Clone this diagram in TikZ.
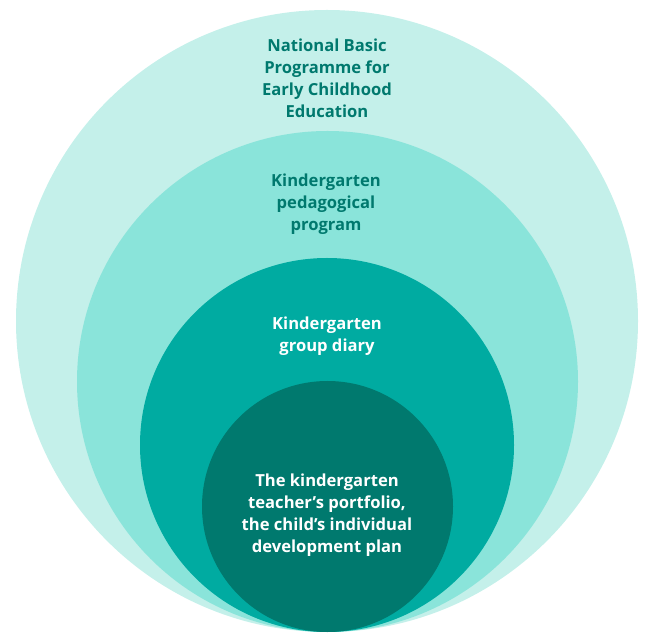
\documentclass[tikz,border=0pt]{standalone}
\usepackage{fontspec}
\setmainfont{Open Sans}
\definecolor{ringA}{HTML}{C4F0EA}
\definecolor{ringB}{HTML}{8AE4DA}
\definecolor{ringC}{HTML}{00ABA1}
\definecolor{ringD}{HTML}{00796E}
\begin{document}
\begin{tikzpicture}[x=1pt,y=1pt]

      \useasboundingbox (0,0) rectangle (645,632);

      \begin{scope}[every node/.style={circle, inner sep=0pt}]
        \node[fill=ringA, minimum size=622] (outer)  at (327,311) {};
        \node[fill=ringB, minimum size=501] (school) at (327.5,250.5) {};
        \node[fill=ringC, minimum size=374] (group)  at (327,187) {};
        \node[fill=ringD, minimum size=251] (child)  at (327.5,125.5) {};
      \end{scope}

      \begin{scope}[every node/.style={align=center, font=\fontsize{16.6}{22}\selectfont\bfseries}]
        \node[text=ringD] (national) at (327,554) {National Basic\\Programme for\\Early Childhood\\Education};
        \node[text=ringD] (pedagogy) at (326,428) {Kindergarten\\pedagogical\\program};
        \node[text=white] (diary)    at (327,296) {Kindergarten\\group diary};
        \node[text=white] (plan)     at (327,116.5) {The kindergarten\\teacher’s portfolio,\\the child’s individual\\development plan};
      \end{scope}

    \end{tikzpicture}
\end{document}
